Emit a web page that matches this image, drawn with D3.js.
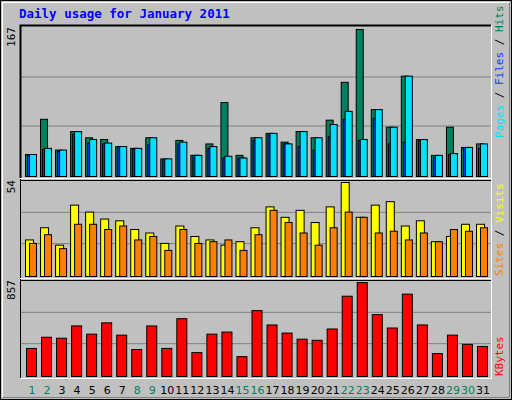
<!DOCTYPE html>
<html><head><meta charset="utf-8">
<script src="https://cdn.jsdelivr.net/npm/d3@7"></script>
<style>body{margin:0;background:#fff}</style></head>
<body><svg id="c" width="512" height="400"></svg>
<script>
const days = d3.range(1,32);
const weekend = [1,2,8,9,15,16,22,23,29,30];
const hits  = [25,65,30,51,44,42,34,32,44,20,41,24,37,84,24,44,49,39,51,44,64,107,167,76,56,114,42,24,56,33,37];
const files = [24,31,29,48,38,37,34,31,36,19,37,24,32,21,21,41,47,37,34,30,45,65,41,66,37,39,41,22,25,33,32];
const pages = [25,32,30,51,42,38,34,32,44,20,39,24,34,23,21,44,49,37,51,44,59,74,42,76,56,114,42,24,26,33,37];
const visits= [21,28,18,41,37,33,32,27,25,19,29,23,21,18,20,28,40,34,38,31,40,54,34,41,43,29,32,20,23,30,30];
const sites = [19,24,16,30,30,27,29,21,23,15,27,19,20,21,15,24,38,31,25,18,28,37,34,25,26,21,25,20,27,26,28];
const kbytes= [256,358,349,461,386,489,377,246,461,256,527,218,386,405,181,601,470,396,340,330,433,732,857,564,442,751,470,209,377,293,274];
const maxLabels = ["167","54","857"];

const svg = d3.select("#c");
svg.append("rect").attr("x",0.5).attr("y",0.5).attr("width",511).attr("height",399).attr("fill","#c0c0c0").attr("stroke","#000");
svg.append("path").attr("d","M2.5,397.5V2.5H509.5").attr("fill","none").attr("stroke","#fff");
svg.append("path").attr("d","M2.5,397.5H509.5V2.5").attr("fill","none").attr("stroke","#808080");
svg.append("text").attr("x",19).attr("y",18).attr("fill","#0000ff").attr("font-family","DejaVu Sans Mono")
  .attr("font-weight","bold").attr("font-size",12.5).text("Daily usage for January 2011");

const x = d3.scaleLinear().domain([1,31]).range([25,476]);
const L=20, R=491;
const panels = [{y0:25,y1:178,max:167},{y0:178,y1:278,max:54},{y0:278,y1:378,max:857}];
panels.forEach((p,i)=>{
  const g=svg.append("g");
  g.append("rect").attr("x",L).attr("y",p.y0).attr("width",R-L).attr("height",p.y1-p.y0).attr("fill","#c0c0c0");
  const h=p.y1-p.y0;
  [1,2].forEach(k=>g.append("line").attr("x1",L).attr("x2",R).attr("y1",p.y1-3-(h-6)*k/3).attr("y2",p.y1-3-(h-6)*k/3).attr("stroke","#808080"));
  g.append("text").attr("transform",`translate(15,${p.y0+2}) rotate(-90)`).attr("text-anchor","end")
   .attr("font-family","DejaVu Sans Mono").attr("font-size",11).text(maxLabels[i]);
});
function bars(panel,vals,dx,w,col){
  const y=d3.scaleLinear().domain([0,panel.max]).range([panel.y1-2,panel.y0+4]);
  svg.append("g").selectAll("rect").data(vals).join("rect")
   .attr("x",(d,i)=>x(days[i])+dx+0.5).attr("y",d=>y(d)+0.5).attr("width",w).attr("height",d=>y(0)-y(d))
   .attr("fill",col).attr("stroke","#000").attr("stroke-width",1);
}
bars(panels[0],hits,0,7,"#00805c");
bars(panels[0],files,2,7,"#0040ff");
bars(panels[0],pages,4,7,"#00e0ff");
bars(panels[1],visits,0,8,"#ffff00");
bars(panels[1],sites,4,7,"#ff8000");
bars(panels[2],kbytes,1,10,"#ff0000");
// frame edges
panels.forEach(p=>{
  svg.append("path").attr("d",`M${L+0.5},${p.y1}V${p.y0+0.5}H${R}`).attr("fill","none").attr("stroke","#000").attr("stroke-width",p.y0===25?2:1);
});
svg.append("path").attr("d",`M${L},${378.5}H${R+0.5}V25`).attr("fill","none").attr("stroke","#fff");
svg.append("path").attr("d",`M${L},178.5H${R}M${L},278.5H${R}`).attr("stroke","#fff");
svg.append("path").attr("d",`M${L},180.5H${R}M${L},280.5H${R}`).attr("stroke","#000");
// day labels
svg.append("g").selectAll("text").data(days).join("text")
 .attr("x",d=>x(d)+7).attr("y",394).attr("text-anchor","middle").attr("font-family","DejaVu Sans").attr("font-size",11)
 .attr("fill",d=>weekend.includes(d)?"#00805c":"#000").text(d=>d);
// right labels
function rlab(y,parts){
  const t=svg.append("text").attr("transform",`translate(503,${y}) rotate(-90)`).attr("font-family","DejaVu Sans Mono").attr("font-size",11);
  parts.forEach(([s,c])=>t.append("tspan").attr("fill",c).text(s));
}
rlab(138,[["Pages","#00e0ff"],[" / ","#000"],["Files","#0040ff"],[" / ","#000"],["Hits","#00805c"]]);
rlab(276,[["Sites","#ff8000"],[" / ","#000"],["Visits","#ffff00"]]);
rlab(376,[["KBytes","#ff0000"]]);
</script></body></html>
